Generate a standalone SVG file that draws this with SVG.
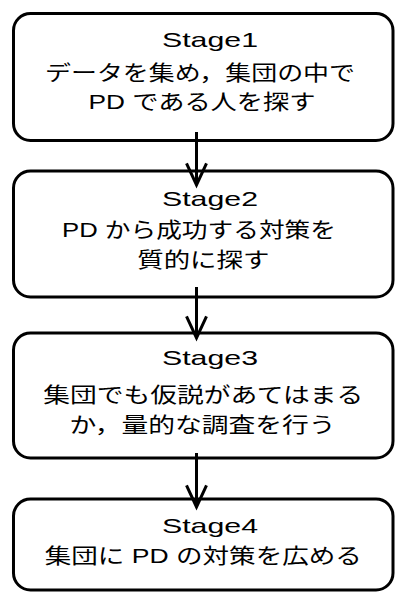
<svg xmlns="http://www.w3.org/2000/svg" width="396" height="594" viewBox="0 0 396 594">
<style>
.box{fill:#fff;stroke:#000;stroke-width:3}
.t{font-family:"Liberation Sans","Noto Sans CJK JP",sans-serif;font-size:21px;fill:#000;text-anchor:middle}
.c{fill:none;stroke:#000;stroke-width:3}
</style>
<rect width="396" height="594" fill="#fff"/>
<g id="stage1">
<rect class="box" x="13.5" y="13.5" width="379.5" height="127" rx="17"/>
<text class="t" x="210" y="47" textLength="96" lengthAdjust="spacingAndGlyphs">Stage1</text>
<text class="t" x="200" y="80" textLength="310" lengthAdjust="spacingAndGlyphs">データを集め，集団の中で</text>
<text class="t" x="202" y="108.5" textLength="227" lengthAdjust="spacingAndGlyphs">PD である人を探す</text>
</g>
<g id="stage2">
<rect class="box" x="13.5" y="171" width="379.5" height="126" rx="17"/>
<text class="t" x="210" y="206" textLength="96" lengthAdjust="spacingAndGlyphs">Stage2</text>
<text class="t" x="199" y="237" textLength="274" lengthAdjust="spacingAndGlyphs">PD から成功する対策を</text>
<text class="t" x="203.3" y="266.5" textLength="132" lengthAdjust="spacingAndGlyphs">質的に探す</text>
</g>
<g id="stage3">
<rect class="box" x="13.5" y="333" width="379.5" height="125" rx="17"/>
<text class="t" x="210" y="365" textLength="96" lengthAdjust="spacingAndGlyphs">Stage3</text>
<text class="t" x="203.3" y="401.5" textLength="320" lengthAdjust="spacingAndGlyphs">集団でも仮説があてはまる</text>
<text class="t" x="202.5" y="431.5" textLength="266" lengthAdjust="spacingAndGlyphs">か，量的な調査を行う</text>
</g>
<g id="stage4">
<rect class="box" x="13.5" y="499" width="379.5" height="91" rx="17"/>
<text class="t" x="210" y="533" textLength="96" lengthAdjust="spacingAndGlyphs">Stage4</text>
<text class="t" x="203.3" y="563" textLength="317" lengthAdjust="spacingAndGlyphs">集団に PD の対策を広める</text>
</g>
<g id="connectors">
<line class="c" x1="196.5" y1="132" x2="196.5" y2="183"/>
<polyline class="c" points="186.5,163.3 196.5,185 206.5,163.3"/>
<line class="c" x1="196.5" y1="287" x2="196.5" y2="336"/>
<polyline class="c" points="186.5,316.3 196.5,338 206.5,316.3"/>
<line class="c" x1="196.5" y1="453" x2="196.5" y2="505"/>
<polyline class="c" points="186.5,485.3 196.5,507 206.5,485.3"/>
</g>
</svg>
